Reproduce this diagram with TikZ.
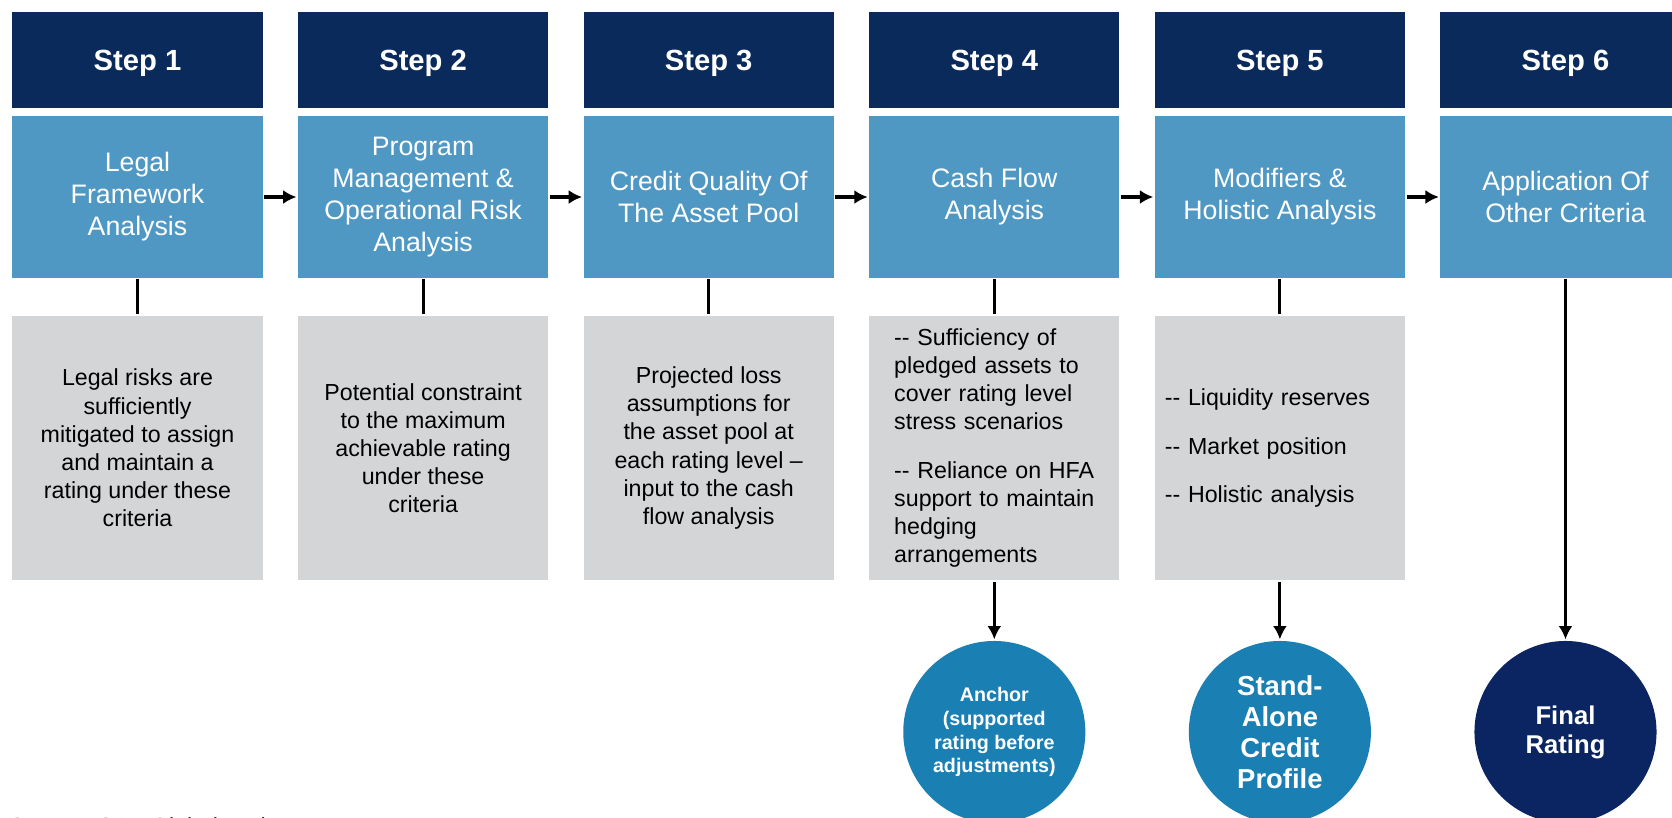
\documentclass[tikz,border=0pt]{standalone}
\usepackage{fontspec}
\setmainfont{Liberation Sans}
\usepackage{tikz}
\usetikzlibrary{arrows.meta,positioning,calc}
\usetikzlibrary{shapes.geometric}
\definecolor{stepnavy}{HTML}{0A2A5C}
\definecolor{stageblue}{HTML}{4F98C4}
\definecolor{notegray}{HTML}{D4D5D7}
\definecolor{resultblue}{HTML}{1A7FB2}
\definecolor{finalnavy}{HTML}{0B2563}

\begin{document}
\begin{tikzpicture}[x=0.01cm,y=-0.01cm,line width=0.9pt,>={Latex[length=3.8pt,width=4pt]},
  head/.style={fill=stepnavy,text=white,minimum width=2.5cm,minimum height=0.96cm,inner sep=0pt,text depth=0pt,font=\fontsize{8.3}{10}\selectfont\bfseries},
  stage/.style={fill=stageblue,text=white,minimum width=2.5cm,minimum height=1.61cm,inner sep=0pt,align=center,font=\fontsize{7.6}{9.1}\selectfont},
  note/.style={fill=notegray,minimum width=2.5cm,minimum height=2.64cm,inner sep=0pt,align=center,font=\fontsize{6.6}{8}\selectfont},
  result/.style={circle,fill=resultblue,text=white,minimum size=1.82cm,inner sep=0pt,align=center}]
\def\pitch{285.6}
\useasboundingbox (0,0) rectangle (1672,817);
\clip (0,0) rectangle (1672,817);
\foreach \i in {1,...,6} {
  \coordinate (c\i) at ({137.5+\pitch*(\i-1)},0);
  \node[head] (head\i) at ($(c\i)+(0,60)$) {Step \i};
}
\node[stage] (stage1) at ($(c1)+(0,197)$) {Legal\\Framework\\Analysis};
\node[stage] (stage2) at ($(c2)+(0,197)$) {Program\\Management \&\\Operational Risk\\Analysis};
\node[stage] (stage3) at ($(c3)+(0,197)$) {Credit Quality Of\\The Asset Pool};
\node[stage] (stage4) at ($(c4)+(0,197)$) {Cash Flow\\Analysis};
\node[stage] (stage5) at ($(c5)+(0,197)$) {Modifiers \&\\Holistic Analysis};
\node[stage] (stage6) at ($(c6)+(0,197)$) {Application Of\\Other Criteria};
\node[note] (note1) at ($(c1)+(0,448)$) {Legal risks are\\sufficiently\\mitigated to assign\\and maintain a\\rating under these\\criteria};
\node[note] (note2) at ($(c2)+(0,448)$) {Potential constraint\\to the maximum\\achievable rating\\under these\\criteria};
\node[note] (note3) at ($(c3)+(0,448)$) {Projected loss\\assumptions for\\the asset pool at\\each rating level --\\input to the cash\\flow analysis};
\node[note,align=left,text width=2cm] (note4) at ($(c4)+(0,448)$) {-{}- Sufficiency of\\pledged assets to\\cover rating level\\stress scenarios\\[5.7pt]-{}- Reliance on HFA\\support to maintain\\hedging\\arrangements};
\node[note,align=left,text width=2.3cm] (note5) at ($(c5)+(0,448)$) {-{}- Liquidity reserves\\[5.7pt]-{}- Market position\\[5.7pt]-{}- Holistic analysis};
\node[result,font=\bfseries\fontsize{5.6}{6.8}\selectfont] (anchor) at ($(c4)+(0,732)$) {Anchor\\(supported\\rating before\\adjustments)};
\node[result,font=\bfseries\fontsize{7.8}{8.8}\selectfont] (sacp) at ($(c5)+(0,732)$) {Stand-\\Alone\\Credit\\Profile};
\node[result,fill=finalnavy,font=\bfseries\fontsize{7.3}{8.3}\selectfont] (final) at ($(c6)+(0,732)$) {Final\\Rating};
\foreach \i/\j in {1/2,2/3,3/4,4/5,5/6} {
  \draw[->] (stage\i.east) -- (stage\j.west);
}
\foreach \i in {1,...,5} {
  \draw (stage\i.south) -- (note\i.north);
}
\draw[->] (note4) -- (anchor);
\draw[->] (note5) -- (sacp);
\draw[->] (stage6) -- (final);
\node[anchor=north west,inner sep=0pt,font=\fontsize{6.6}{8}\selectfont] (source) at (8,816) {Source: S\&P Global Ratings.};
\end{tikzpicture}
\end{document}
